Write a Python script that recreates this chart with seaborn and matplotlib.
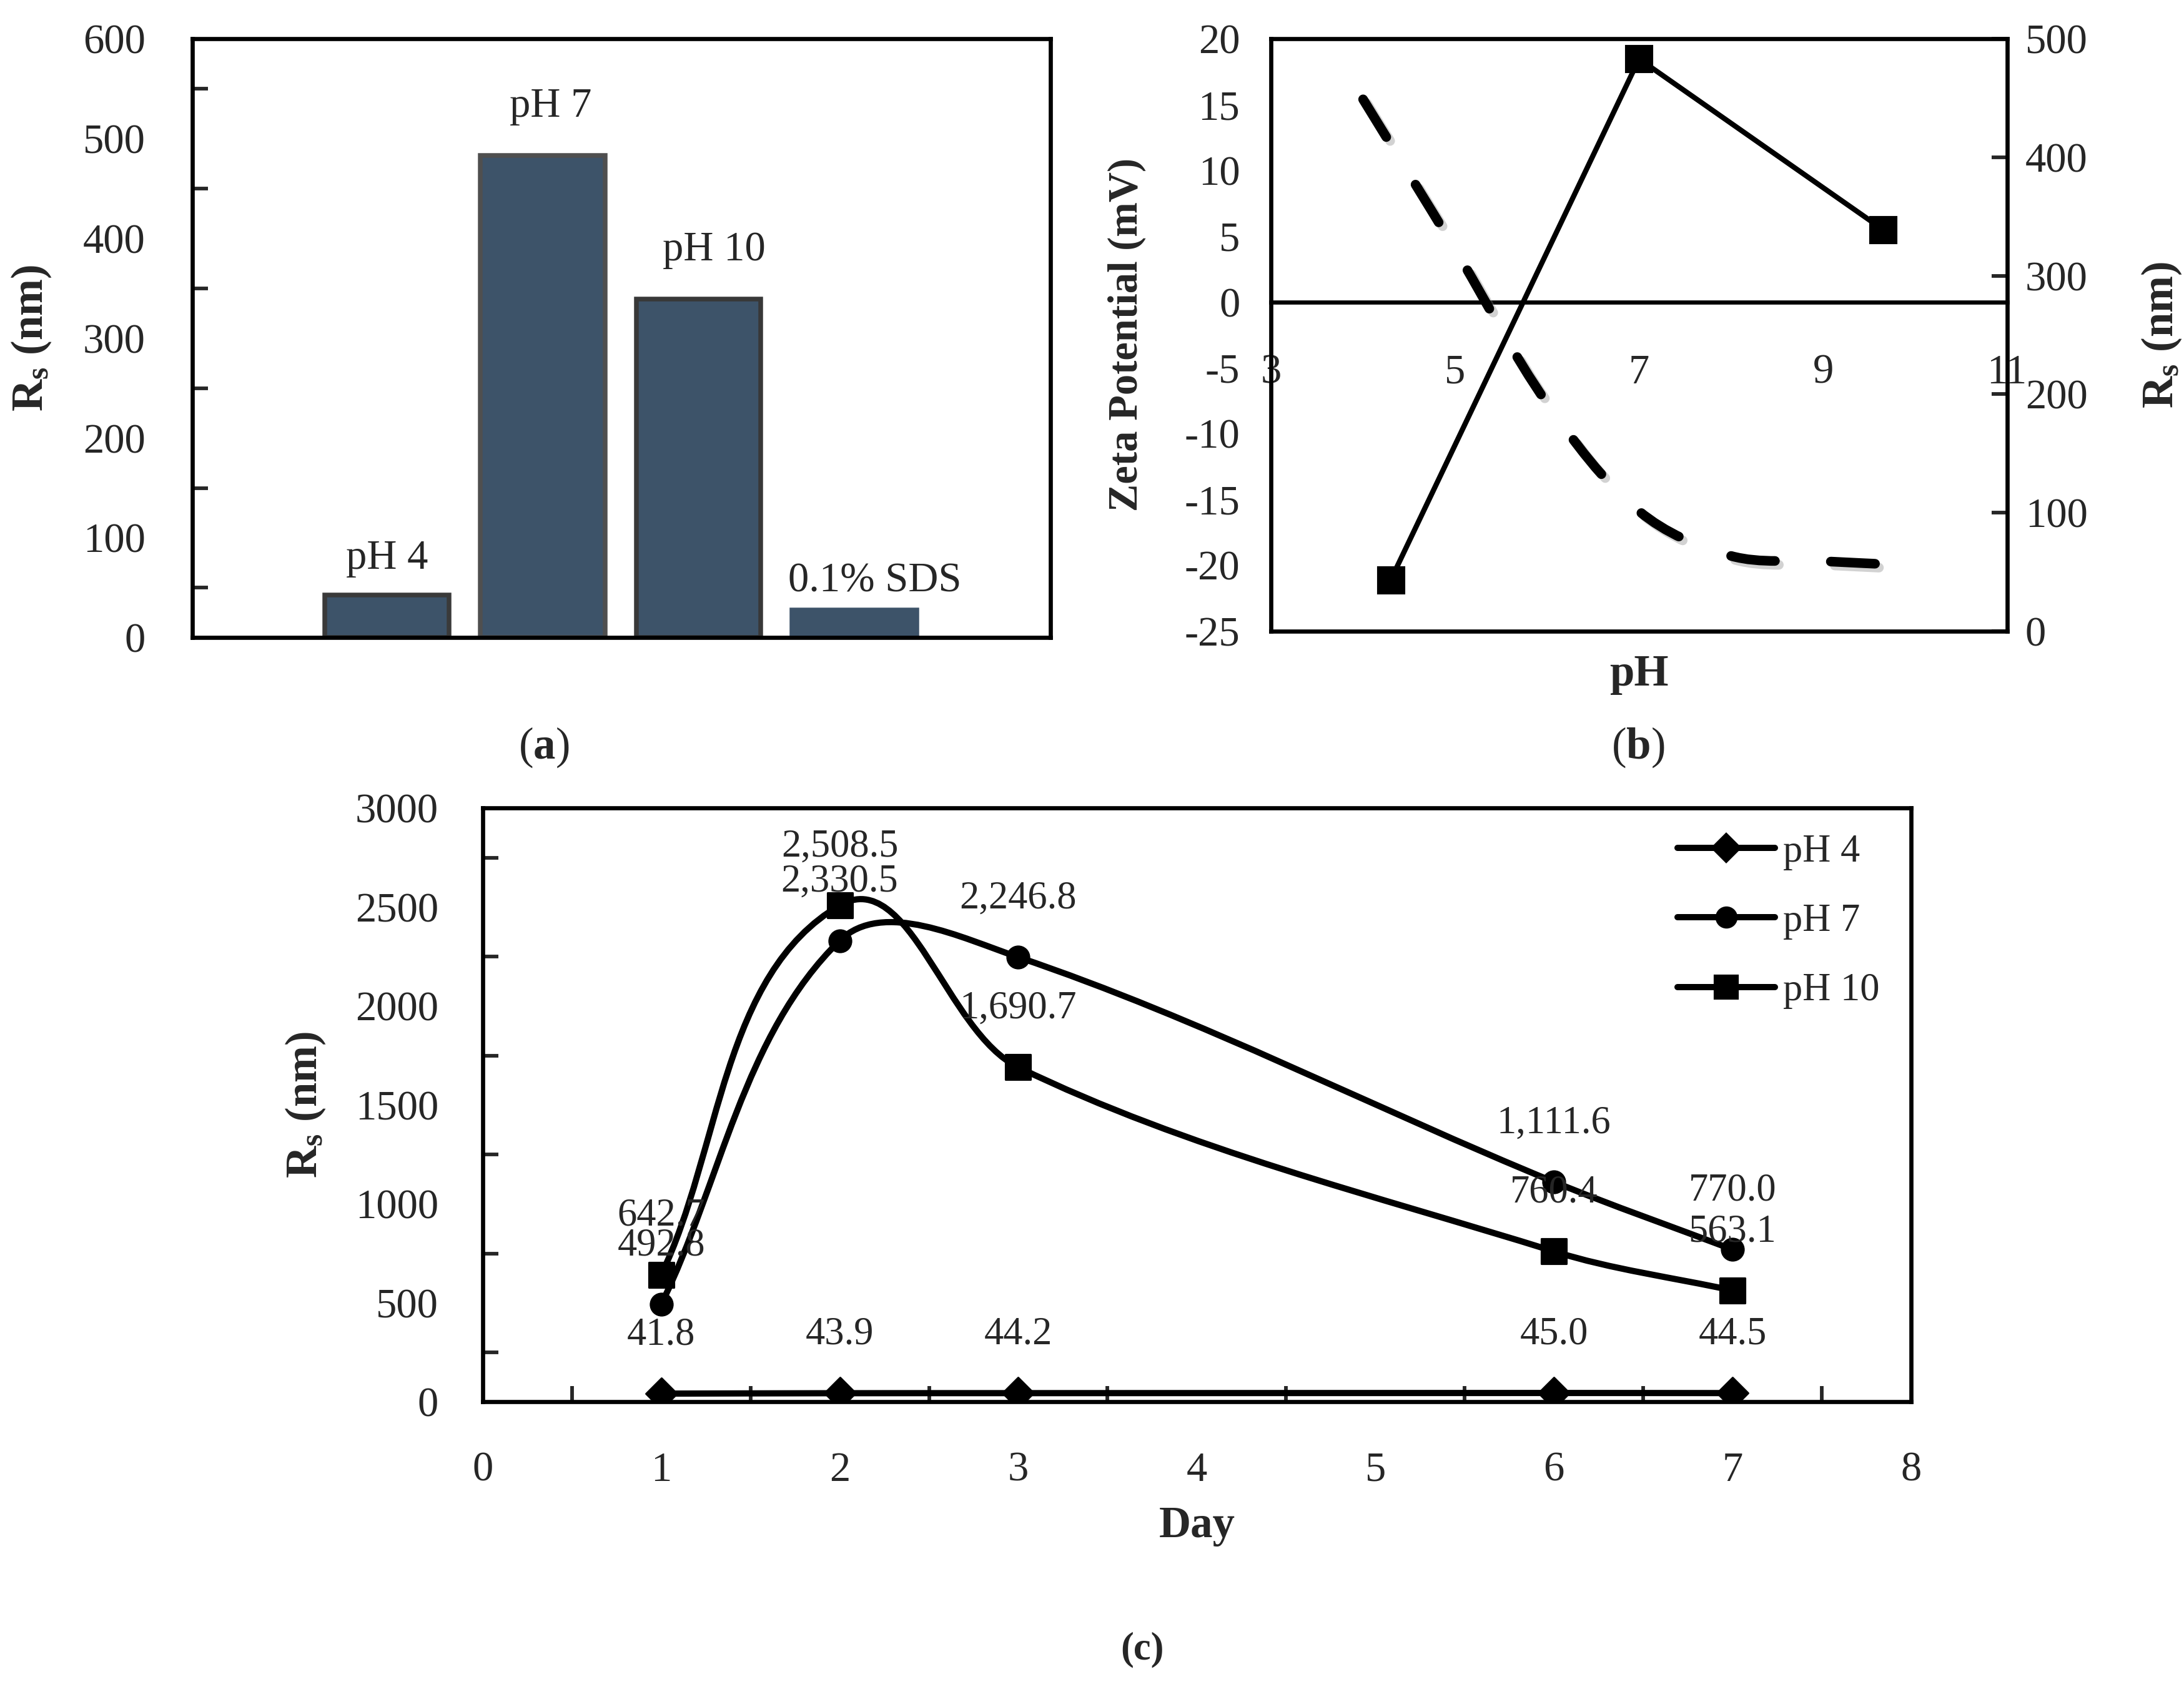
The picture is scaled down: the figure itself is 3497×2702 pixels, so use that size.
import numpy as np
import pandas as pd
import matplotlib
matplotlib.use('Agg')
import matplotlib.pyplot as plt
import matplotlib.patheffects as pe
from matplotlib.path import Path
from matplotlib.patches import PathPatch
from matplotlib.lines import Line2D
from matplotlib.ticker import MultipleLocator, FixedLocator
import seaborn as sns

# (a) size of particles at each condition
bar_labels = ['pH 4', 'pH 7', 'pH 10', '0.1% SDS']
bar_rs = [43, 483, 339, 28]

# (b) zeta potential curve and size vs pH
zeta_ph = [4.0, 5.0, 6.0, 7.0, 8.0, 9.0, 9.9]
zeta_mv = [15.4, 4.0, -7.7, -15.9, -19.3, -19.7, -20.0]
rs_ph = [4.3, 7.0, 9.65]
rs_nm = [43, 483, 339]

# (c) size over time
days = [1, 2, 3, 6, 7]
rs_ph4 = [41.8, 43.9, 44.2, 45.0, 44.5]
rs_ph7 = [492.8, 2330.5, 2246.8, 1111.6, 770.0]
rs_ph10 = [642.7, 2508.5, 1690.7, 760.4, 563.1]

sns.set_style("white")
plt.rcParams['font.family'] = ['Liberation Serif', 'DejaVu Serif']
plt.rcParams['mathtext.fontset'] = 'custom'
plt.rcParams['mathtext.rm'] = 'Liberation Serif'
plt.rcParams['mathtext.it'] = 'Liberation Serif:italic'
plt.rcParams['mathtext.bf'] = 'Liberation Serif:bold'
plt.rcParams['axes.unicode_minus'] = False
plt.rcParams['axes.linewidth'] = 1.6
plt.rcParams['axes.edgecolor'] = 'black'

TICK = 16
FIG_W, FIG_H = 3497 / 300, 2702 / 300


def smooth_path(ax, x, y, k=1 / 3):
    # Excel-like smoothed line: cubic bezier, handles scaled by chord length on screen
    pos = ax.get_position()
    x0, x1 = ax.get_xlim()
    y0, y1 = ax.get_ylim()
    sx = pos.width * FIG_W / (x1 - x0)
    sy = pos.height * FIG_H / (y1 - y0)
    P = np.column_stack([np.asarray(x, float) * sx, np.asarray(y, float) * sy])
    n = len(P)
    T = np.zeros_like(P)
    for i in range(n):
        d = P[min(i + 1, n - 1)] - P[max(i - 1, 0)]
        T[i] = d / np.hypot(*d)
    verts = [P[0]]
    codes = [Path.MOVETO]
    for i in range(n - 1):
        L = np.hypot(*(P[i + 1] - P[i]))
        verts += [P[i] + T[i] * L * k, P[i + 1] - T[i + 1] * L * k, P[i + 1]]
        codes += [Path.CURVE4] * 3
    verts = np.array(verts) / [sx, sy]
    return Path(verts, codes)


fig = plt.figure(figsize=(FIG_W, FIG_H), dpi=300)

# ---------------- (a) ----------------
ax_a = fig.add_axes([0.088, 0.622, 0.393, 0.355])
df_a = pd.DataFrame({'cond': bar_labels, 'rs': bar_rs})
sns.barplot(data=df_a, x='cond', y='rs', order=bar_labels, color='#3d5369',
            saturation=1, width=0.8, ax=ax_a)
edge_cols = ['#3a3a3a', '#4f4f4f', '#383838', '#3d5369']
for patch, ec in zip(ax_a.patches, edge_cols):
    patch.set_edgecolor(ec)
    patch.set_linewidth(1.8)
label_off = [(0, 14), (3, 19), (6, 19), (8, 11)]
for i, (lab, v) in enumerate(zip(bar_labels, bar_rs)):
    ax_a.annotate(lab, (i, v), xytext=label_off[i], textcoords='offset points',
                  ha='center', va='center', fontsize=16)
ax_a.set_xlim(-1.25, 4.26)
ax_a.set_ylim(0, 600)
ax_a.yaxis.set_major_locator(MultipleLocator(100))
ax_a.yaxis.set_minor_locator(FixedLocator([50, 150, 250, 350, 450, 550]))
ax_a.tick_params(axis='y', which='major', length=0, pad=18, labelsize=TICK)
ax_a.tick_params(axis='y', which='minor', direction='in', length=6, width=1.4, left=True)
ax_a.tick_params(axis='x', bottom=False, labelbottom=False)
ax_a.set_xlabel('')
ax_a.set_ylabel(r'$\mathbf{R_s}$ (nm)', fontsize=17, fontweight='bold')
ax_a.yaxis.set_label_coords(-0.162, 0.5)
for s in ax_a.spines.values():
    s.set_visible(True)
    s.set_linewidth(1.6)

# ---------------- (b) ----------------
ax_b = fig.add_axes([0.582, 0.626, 0.337, 0.351])
ax_b2 = ax_b.twinx()
ax_b.set_xlim(3, 11)
ax_b.set_ylim(-25, 20)
ax_b2.set_ylim(0, 500)

zeta_patch = PathPatch(smooth_path(ax_b, zeta_ph, zeta_mv), facecolor='none', edgecolor='black',
                       lw=3.7, linestyle=(0, (4.6, 5.8)), capstyle='round', zorder=3)
zeta_patch.set_path_effects([pe.SimpleLineShadow(offset=(1.5, -1.5), alpha=0.35, shadow_color='gray'),
                             pe.Normal()])
ax_b.add_patch(zeta_patch)

sns.lineplot(x=rs_ph, y=rs_nm, ax=ax_b2, color='black', lw=2.0, marker='s',
             markersize=10, markeredgecolor='black', zorder=4)

ax_b.spines['bottom'].set_position(('data', 0))
ax_b.spines['bottom'].set_linewidth(1.6)
ax_b.spines['top'].set_visible(False)
ax_b.spines['left'].set_visible(False)
ax_b.spines['right'].set_visible(False)
for s in ax_b2.spines.values():
    s.set_visible(True)
    s.set_linewidth(1.6)

ax_b.set_xticks(range(3, 12))
ax_b.set_xticklabels(['3', '', '5', '', '7', '', '9', '', '11'])
ax_b.tick_params(axis='x', direction='in', length=6, width=1.4, pad=20, labelsize=TICK)
ax_b.set_yticks(range(-25, 21, 5))
ax_b.tick_params(axis='y', length=0, pad=12, labelsize=TICK)
ax_b2.set_yticks(range(0, 501, 100))
ax_b2.tick_params(axis='y', direction='in', length=6, width=1.4, pad=7, labelsize=TICK)
ax_b.set_ylabel('Zeta Potential (mV)', fontsize=16, fontweight='bold')
ax_b.yaxis.set_label_coords(-0.17, 0.5)
ax_b2.set_ylabel(r'$\mathbf{R_s}$ (nm)', fontsize=17, fontweight='bold')
ax_b2.yaxis.set_label_coords(1.18, 0.5)
ax_b.set_xlabel('pH', fontsize=17, fontweight='bold')
ax_b.xaxis.set_label_coords(0.5, -0.04)

# ---------------- (c) ----------------
ax_c = fig.add_axes([0.221, 0.169, 0.654, 0.352])
ax_c.set_xlim(0, 8)
ax_c.set_ylim(0, 3000)
series = [('pH 4', rs_ph4, 'D', 8.5), ('pH 7', rs_ph7, 'o', 8.5), ('pH 10', rs_ph10, 's', 9.5)]
handles = []
for name, vals, mk, ms in series:
    ax_c.add_patch(PathPatch(smooth_path(ax_c, days, vals), facecolor='none', edgecolor='black',
                             lw=2.4, zorder=2))
    sns.scatterplot(x=days, y=vals, ax=ax_c, marker=mk, s=ms ** 2, color='black',
                    edgecolor='black', zorder=3, legend=False)
    for d, v in zip(days, vals):
        ax_c.annotate(f'{v:,.1f}', (d, v), xytext=(0, 22.5), textcoords='offset points',
                      ha='center', va='center', fontsize=15)
    handles.append(Line2D([0], [0], color='black', lw=2.4, marker=mk, markersize=ms - 1,
                          label=name))
ax_c.legend(handles=handles, loc='upper left', bbox_to_anchor=(0.812, 1.015), frameon=False,
            fontsize=15, handlelength=2.5, handletextpad=0.2, labelspacing=0.85)
ax_c.xaxis.set_major_locator(MultipleLocator(1))
ax_c.xaxis.set_minor_locator(MultipleLocator(0.5))
ax_c.yaxis.set_major_locator(MultipleLocator(500))
ax_c.yaxis.set_minor_locator(MultipleLocator(250))
ax_c.tick_params(which='major', length=0, labelsize=TICK)
ax_c.tick_params(axis='x', which='major', pad=19)
ax_c.tick_params(axis='y', which='major', pad=17)
ax_c.tick_params(which='minor', direction='in', length=6, width=1.4, bottom=True, left=True)
ax_c.set_xlabel('Day', fontsize=17, fontweight='bold')
ax_c.xaxis.set_label_coords(0.5, -0.175)
ax_c.set_ylabel(r'$\mathbf{R_s}$ (nm)', fontsize=17, fontweight='bold')
ax_c.yaxis.set_label_coords(-0.109, 0.5)
for s in ax_c.spines.values():
    s.set_visible(True)
    s.set_linewidth(1.6)

# panel captions
fig.text(0.249, 0.557, r'($\mathbf{a}$)', ha='center', va='center', fontsize=17)
fig.text(0.750, 0.557, r'($\mathbf{b}$)', ha='center', va='center', fontsize=17)
fig.text(0.523, 0.022, '(c)', ha='center', va='center', fontsize=15, fontweight='bold')

fig.savefig('out.png', dpi=300)
